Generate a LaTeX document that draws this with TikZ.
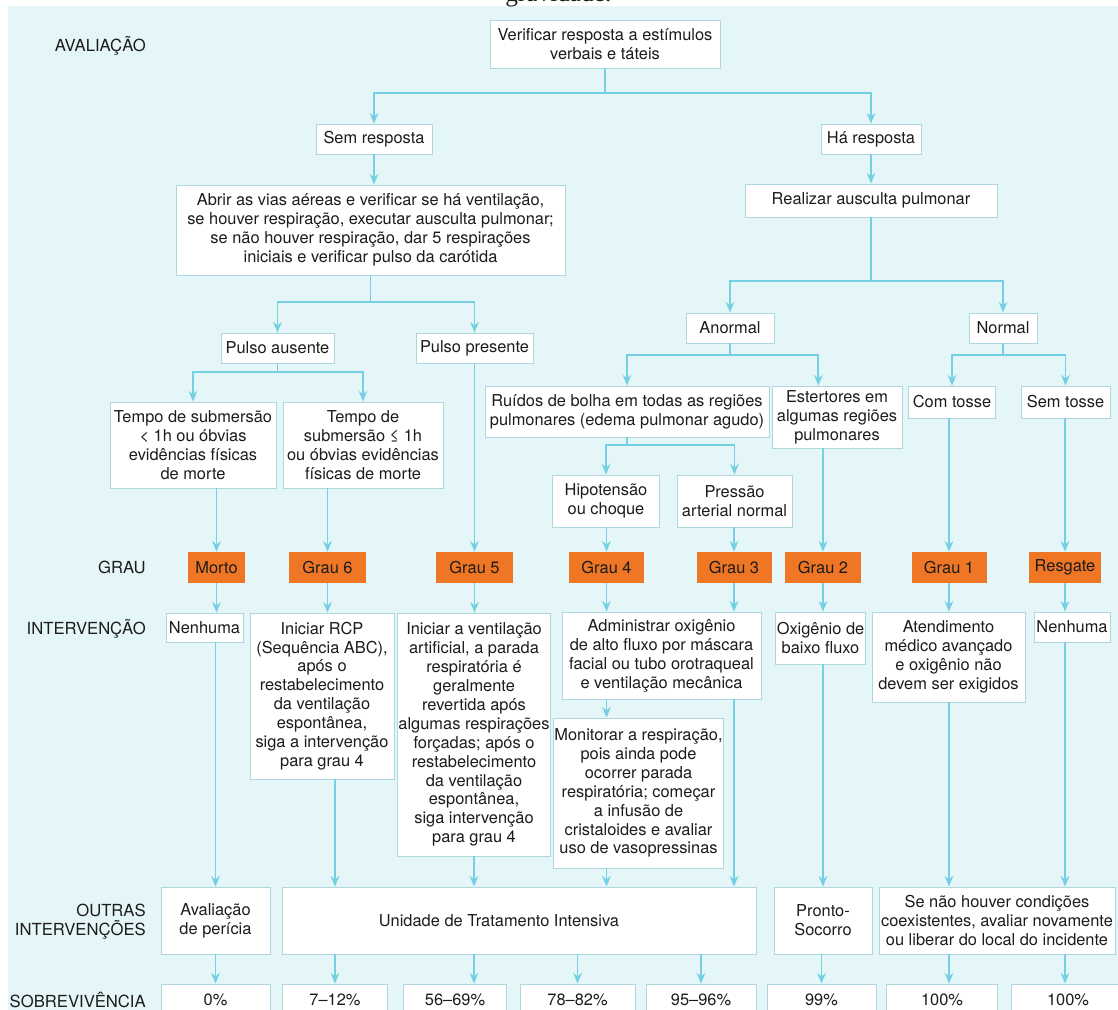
\documentclass[tikz,border=0pt]{standalone}
\usepackage{fontspec}
\setmainfont{TeX Gyre Heros}
\newfontfamily\capfont{Liberation Serif}
\usepackage{xcolor}
\usepackage{tikz}
\usetikzlibrary{arrows.meta}

\definecolor{bgcyan}{RGB}{229,246,248}
\definecolor{linecyan}{RGB}{118,208,228}
\definecolor{boxline}{RGB}{176,214,222}
\definecolor{gradeorange}{RGB}{238,118,36}
\definecolor{txt}{RGB}{28,28,28}

\begin{document}
\begin{tikzpicture}[x=0.75pt, y=-0.75pt,
  box/.style={rectangle, draw=boxline, line width=0.6pt, fill=white, text=txt, align=center, inner xsep=1pt, inner ysep=2pt, font=\fontsize{12.3}{14.2}\selectfont},
  grade/.style={rectangle, fill=gradeorange, text=txt, inner sep=1pt, font=\fontsize{12.3}{14.2}\selectfont},
  rowlabel/.style={anchor=east, align=right, text=txt, inner sep=0pt, font=\fontsize{12.5}{14.5}\selectfont},
  sz/.style 2 args={minimum width=#1*0.75pt, minimum height=#2*0.75pt},
  wire/.style={draw=linecyan, line width=1.4pt},
  arrow/.style={wire, -{Stealth[length=8pt, width=6.5pt]}}]

  \useasboundingbox (0,0) rectangle (1118,1010);
  \fill[bgcyan] (8,6) rectangle (1118,1010);
  \node[anchor=base west, inner sep=0pt, text=txt, font=\capfont\fontsize{19}{19}\selectfont] (caption) at (505,1.5) {gravidade.};

  \node[rowlabel] (lAval) at (146,46) {AVALIAÇÃO};
  \node[rowlabel] (lGrau) at (146,567) {GRAU};
  \node[rowlabel] (lInter) at (146,629) {INTERVENÇÃO};
  \node[rowlabel] (lOutras) at (146,922) {OUTRAS\\INTERVENÇÕES};
  \node[rowlabel] (lSobre) at (146,1000) {SOBREVIVÊNCIA};

  \node[box, sz={230}{48}] (verif) at (605,44) {Verificar resposta a estímulos\\verbais e táteis};
  \node[box, sz={116}{30}] (semresp) at (374,139) {Sem resposta};
  \node[box, sz={100}{30}] (haresp) at (871,139) {Há resposta};
  \node[box, sz={389}{90}] (abrir) at (370.5,230) {Abrir as vias aéreas e verificar se há ventilação,\\se houver respiração, executar ausculta pulmonar;\\se não houver respiração, dar 5 respirações\\iniciais e verificar pulso da carótida};
  \node[box, sz={252}{33}] (ausculta) at (871,200.5) {Realizar ausculta pulmonar};
  \node[box, sz={113}{30}] (pausente) at (277.5,348) {Pulso ausente};
  \node[box, sz={117}{30}] (ppresente) at (474.5,348) {Pulso presente};
  \node[box, sz={88}{30}] (anormal) at (730,328) {Anormal};
  \node[box, sz={68}{30}] (normal) at (1003,328) {Normal};
  \node[box, sz={166}{86}] (tempoA) at (193,445) {Tempo de submersão\\< 1h ou óbvias\\evidências físicas\\de morte};
  \node[box, sz={160}{86}] (tempoB) at (363,445) {Tempo de\\submersão ≤ 1h\\ou óbvias evidências\\físicas de morte};
  \node[box, sz={284}{51}] (ruidos) at (627,411.5) {Ruídos de bolha em todas as regiões\\pulmonares (edema pulmonar agudo)};
  \node[box, sz={130}{62}] (estert) at (837,417) {Estertores em\\algumas regiões\\pulmonares};
  \node[box, sz={87}{32}] (comtosse) at (952,402) {Com tosse};
  \node[box, sz={89}{32}] (semtosse) at (1065.5,402) {Sem tosse};
  \node[box, sz={107}{52}] (hipo) at (606,501) {Hipotensão\\ou choque};
  \node[box, sz={115}{52}] (pressao) at (734.5,501) {Pressão\\arterial normal};

  \node[grade, sz={57}{31}] (gMorto) at (216.5,567.5) {Morto};
  \node[grade, sz={77}{31}] (g6) at (327.5,567.5) {Grau 6};
  \node[grade, sz={77}{31}] (g5) at (474.5,567.5) {Grau 5};
  \node[grade, sz={75}{31}] (g4) at (606.5,567.5) {Grau 4};
  \node[grade, sz={75}{31}] (g3) at (734,567.5) {Grau 3};
  \node[grade, sz={76}{31}] (g2) at (823,567.5) {Grau 2};
  \node[grade, sz={75}{31}] (g1) at (949,567.5) {Grau 1};
  \node[grade, sz={72}{31}] (gResg) at (1065,567.5) {Resgate};

  \node[box, sz={77}{29}] (nenhA) at (204.5,627.5) {Nenhuma};
  \node[box, sz={144}{166}] (rcp) at (322,696) {Iniciar RCP\\(Sequência ABC),\\após o\\restabelecimento\\da ventilação\\espontânea,\\siga a intervenção\\para grau 4};
  \node[box, sz={152}{243}] (vent) at (474,734.5) {Iniciar a ventilação\\artificial, a parada\\respiratória é\\geralmente\\revertida após\\algumas respirações\\forçadas; após o\\restabelecimento\\da ventilação\\espontânea,\\siga intervenção\\para grau 4};
  \node[box, sz={199}{87}] (admin) at (661.5,655.5) {Administrar oxigênio\\de alto fluxo por máscara\\facial ou tubo orotraqueal\\e ventilação mecânica};
  \node[box, sz={163}{150}] (monit) at (638.5,793) {Monitorar a respiração,\\pois ainda pode\\ocorrer parada\\respiratória; começar\\a infusão de\\cristaloides e avaliar\\uso de vasopressinas};
  \node[box, sz={89}{52}] (oxig) at (820.5,638) {Oxigênio de\\baixo fluxo};
  \node[box, sz={153}{90}] (atend) at (948.5,657) {Atendimento\\médico avançado\\e oxigênio não\\devem ser exigidos};
  \node[box, sz={76}{30}] (nenhB) at (1072,627) {Nenhuma};

  \node[box, sz={109}{67}] (pericia) at (215.5,920.5) {Avaliação\\de perícia};
  \node[box, sz={474}{67}] (uti) at (519,920.5) {Unidade de Tratamento Intensiva\hspace*{30pt}};
  \node[box, sz={98}{67}] (pronto) at (823,920.5) {Pronto-\\Socorro};
  \node[box, sz={236}{67}] (senao) at (997,920.5) {Se não houver condições\\coexistentes, avaliar novamente\\ou liberar do local do incidente};

  \node[box, sz={109}{32}] (s0) at (215.5,1000) {0\%};
  \node[box, sz={105}{32}] (s1) at (335,1000) {7–12\%};
  \node[box, sz={103}{32}] (s2) at (455,1000) {56–69\%};
  \node[box, sz={115}{32}] (s3) at (577.5,1000) {78–82\%};
  \node[box, sz={110}{32}] (s4) at (701,1000) {95–96\%};
  \node[box, sz={109}{32}] (s5) at (821.5,1000) {99\%};
  \node[box, sz={111}{32}] (s6) at (942,1000) {100\%};
  \node[box, sz={114}{32}] (s7) at (1068,1000) {100\%};

  \coordinate (jTop) at (605,93);
  \coordinate (jPulso) at (370.5,302);
  \coordinate (jAusc) at (871,281);
  \coordinate (jAus) at (277.5,372);
  \coordinate (jAnorm) at (730,355);
  \coordinate (jNorm) at (1003,355);
  \coordinate (jRuid) at (627,445);

  \draw[wire] (verif) -- (jTop);
  \draw[arrow] (jTop) -| (semresp);
  \draw[arrow] (jTop) -| (haresp);
  \draw[arrow] (semresp) -- (semresp |- abrir.north);
  \draw[arrow] (haresp) -- (haresp |- ausculta.north);

  \draw[wire] (abrir) -- (jPulso);
  \draw[arrow] (jPulso) -| (pausente);
  \draw[arrow] (jPulso) -| (ppresente);
  \draw[wire] (ausculta) -- (jAusc);
  \draw[arrow] (jAusc) -| (anormal);
  \draw[arrow] (jAusc) -| (normal);

  \draw[wire] (pausente) -- (jAus);
  \draw[arrow] (jAus) -| (tempoA);
  \draw[arrow] (jAus) -| (tempoB);
  \draw[wire] (anormal) -- (jAnorm);
  \draw[arrow] (jAnorm) -| (ruidos);
  \draw[arrow] (jAnorm) -| ([xshift=-14pt]estert.north);
  \draw[wire] (normal) -- (jNorm);
  \draw[arrow] (jNorm) -| (comtosse);
  \draw[arrow] (jNorm) -| (semtosse);
  \draw[wire] (ruidos) -- (jRuid);
  \draw[arrow] (jRuid) -| (hipo);
  \draw[arrow] (jRuid) -| (pressao);

  \draw[arrow] (tempoA.south -| gMorto) -- (gMorto);
  \draw[arrow] (tempoB.south -| g6) -- (g6);
  \draw[arrow] (ppresente) -- (g5);
  \draw[arrow] (hipo.south -| g4) -- (g4);
  \draw[arrow] (pressao.south -| g3) -- (g3);
  \draw[arrow] (estert.south -| g2) -- (g2);
  \draw[arrow] (comtosse.south -| g1) -- (g1);
  \draw[arrow] (semtosse.south -| gResg) -- (gResg);

  \draw[arrow] (gMorto) -- (gMorto |- nenhA.north);
  \draw[arrow] (g6) -- (g6 |- rcp.north);
  \draw[arrow] (g5) -- (g5 |- vent.north);
  \draw[arrow] (g4) -- (g4 |- admin.north);
  \draw[arrow] (g3) -- (g3 |- admin.north);
  \draw[arrow] (g2) -- (g2 |- oxig.north);
  \draw[arrow] (g1) -- (g1 |- atend.north);
  \draw[arrow] (gResg) -- (gResg |- nenhB.north);
  \draw[arrow] (admin.south -| g4) -- (g4 |- monit.north);

  \draw[arrow] (nenhA.south -| pericia) -- (pericia);
  \draw[arrow] (rcp.south -| s1) -- (s1 |- uti.north);
  \draw[arrow] (vent) -- (vent |- uti.north);
  \draw[arrow] (monit.south -| g4) -- (g4 |- uti.north);
  \draw[arrow] (admin.south -| g3) -- (g3 |- uti.north);
  \draw[arrow] (oxig.south -| g2) -- (g2 |- pronto.north);
  \draw[arrow] (atend.south -| g1) -- (g1 |- senao.north);
  \draw[arrow] (nenhB.south -| gResg) -- (gResg |- senao.north);

  \draw[arrow] (pericia) -- (s0);
  \draw[arrow] (uti.south -| s1) -- (s1);
  \draw[arrow] (uti.south -| vent) -- (vent |- s2.north);
  \draw[arrow] (uti.south -| s3) -- (s3);
  \draw[arrow] (uti.south -| s4) -- (s4);
  \draw[arrow] (pronto.south -| s5) -- (s5);
  \draw[arrow] (senao.south -| g1) -- (g1 |- s6.north);
  \draw[arrow] (senao.south -| gResg) -- (gResg |- s7.north);

\end{tikzpicture}
\end{document}
